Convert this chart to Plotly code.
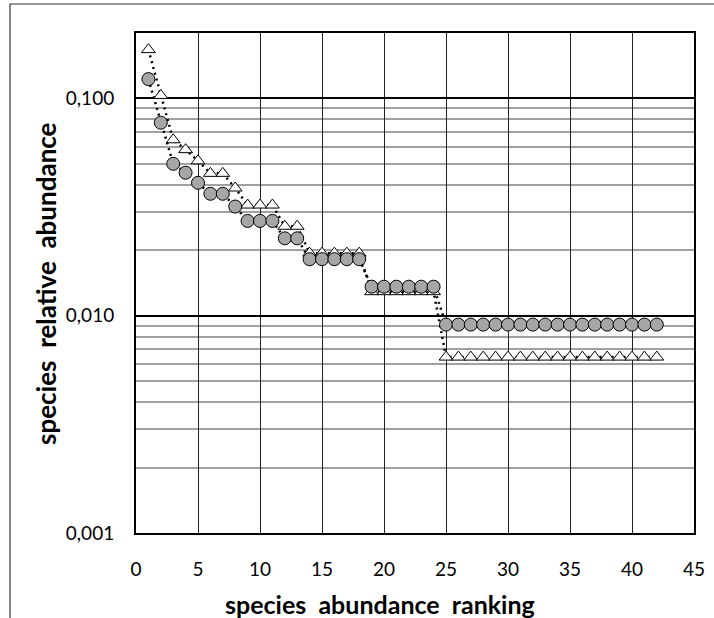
import math
import plotly.graph_objects as go

rank = list(range(1, 43))
series_circle = ([0.1227, 0.0773, 0.0500, 0.0455, 0.0409, 0.0364, 0.0364, 0.0318,
                  0.0273, 0.0273, 0.0273, 0.0227, 0.0227]
                 + [0.0182] * 5 + [0.0136] * 6 + [0.0091] * 18)
series_triangle = ([0.1677, 0.1032, 0.0645, 0.0581, 0.0516, 0.0452, 0.0452, 0.0387,
                    0.0323, 0.0323, 0.0323, 0.0258, 0.0258]
                   + [0.0194] * 5 + [0.0129] * 6 + [0.00645] * 18)

x_title = "species\u00a0 abundance\u00a0 ranking"
y_title = "species\u00a0 relative\u00a0 abundance"

W, H = 714, 618
L, R, T, B = 136, 20, 33, 85
pw, ph = W - L - R, H - T - B

fig = go.Figure()
fig.add_trace(go.Scatter(
    x=rank, y=series_triangle, mode="lines+markers",
    line=dict(color="black", width=2.5, dash="2px,4px"),
    marker=dict(symbol="triangle-up", size=12, color="white",
                line=dict(color="black", width=1)),
    showlegend=False))
fig.add_trace(go.Scatter(
    x=rank, y=series_circle, mode="lines+markers",
    line=dict(color="black", width=2.5, dash="2px,4px"),
    marker=dict(symbol="circle", size=13, color="#A6A6A6",
                line=dict(color="black", width=1)),
    showlegend=False))

font = "Lato, 'Open Sans', sans-serif"
fig.update_layout(
    width=W, height=H,
    margin=dict(l=L, r=R, t=T, b=B, autoexpand=False),
    paper_bgcolor="white", plot_bgcolor="white",
    separators=",.",
    font=dict(family=font, size=19, color="black"),
    xaxis=dict(range=[0, 45], dtick=5, tick0=0,
               showline=True, linecolor="black", linewidth=2, mirror=True,
               showgrid=True, gridcolor="#222222", gridwidth=1,
               zeroline=False,
               ticks="outside", ticklen=18, tickcolor="rgba(0,0,0,0)",
               tickfont=dict(size=19)),
    yaxis=dict(type="log", range=[-3, math.log10(0.2)], dtick=1, tickformat=".3f",
               showline=True, linecolor="black", linewidth=2, mirror=True,
               showgrid=True, gridcolor="black", gridwidth=1.5,
               zeroline=False,
               ticks="outside", ticklen=16, tickcolor="rgba(0,0,0,0)",
               tickfont=dict(size=19),
               minor=dict(dtick="D1", showgrid=True, gridcolor="#A0A0A0",
                          gridwidth=1.5, ticks="")),
    annotations=[
        dict(text="<b>%s</b>" % x_title, xref="paper", yref="paper",
             x=(380 - L) / pw, y=(H - B - 604) / ph, xanchor="center",
             yanchor="middle", showarrow=False, font=dict(size=25)),
        dict(text="<b>%s</b>" % y_title, xref="paper", yref="paper",
             x=(46 - L) / pw, y=(H - B - 284) / ph, xanchor="center", yanchor="middle",
             textangle=-90, showarrow=False, font=dict(size=26)),
    ],
    shapes=[dict(type="rect", xref="paper", yref="paper",
                 x0=(10 - L) / pw, x1=(W + 10 - L) / pw,
                 y0=(H - B - (H + 10)) / ph, y1=(H - B - 4) / ph,
                 line=dict(color="#333333", width=1.2), layer="below")],
)

fig.write_html("out.html",
               config={"displayModeBar": False},
               post_script="document.body.style.margin='0px';"
                           "document.body.style.overflow='hidden';")
